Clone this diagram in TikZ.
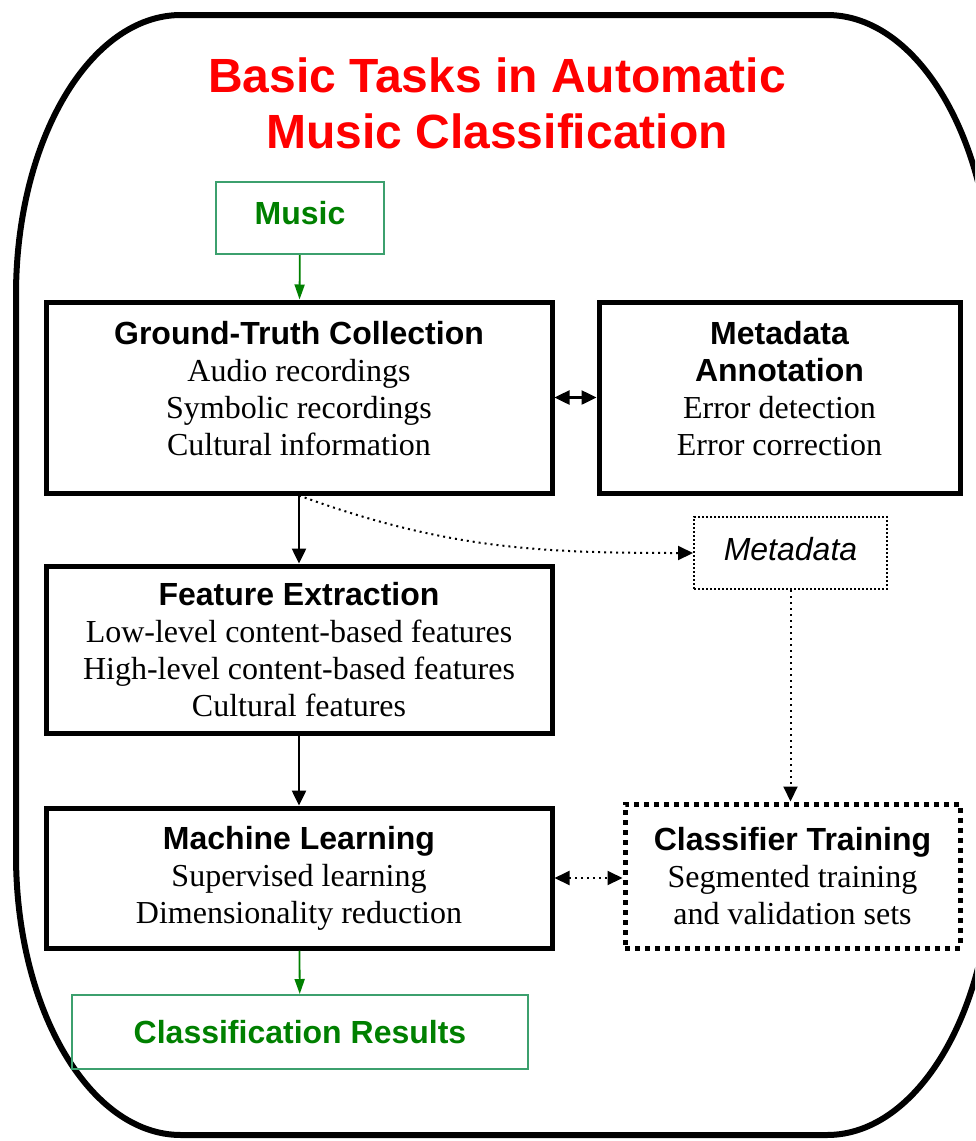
\documentclass[tikz,border=0pt]{standalone}
\usepackage{fontspec}
\setmainfont{Liberation Serif}
\setsansfont{Liberation Sans}
\usetikzlibrary{arrows.meta}
\definecolor{titlered}{RGB}{255,0,0}
\definecolor{textgreen}{RGB}{0,128,0}
\definecolor{linegreen}{RGB}{60,160,110}
\newcommand\taskhead[1]{{\sffamily\bfseries #1}}
\begin{document}
\begin{tikzpicture}[x=0.5pt,y=-0.5pt,
  every node/.style={align=center,font=\fontsize{16}{18.5}\selectfont},
  task/.style={draw,line width=2.5pt,inner sep=0pt},
  io/.style={draw=linegreen,line width=1pt,inner sep=0pt,text=textgreen,font=\fontsize{16}{18.5}\selectfont\sffamily\bfseries},
  meta/.style={draw,line width=1pt,dash pattern=on 1pt off 1pt,inner sep=0pt,font=\fontsize{16}{18.5}\selectfont\sffamily\itshape},
  train/.style={draw,line width=2.5pt,dash pattern=on 2.5pt off 2.5pt,inner sep=0pt},
  >={Triangle[length=7.5pt,width=7pt]},
  arr/.style={line width=1.25pt,->},
  darr/.style={line width=1pt,dash pattern=on 1pt off 2pt,->},
  garr/.style={textgreen,line width=0.9pt,-{Triangle[length=7.5pt,width=5pt]}}]
\clip (0,0) rectangle (975,1141);
\draw[line width=3pt] (16,295) .. controls (16,140) and (90,15) .. (181,15) -- (827,15)
  .. controls (918,15) and (992,140) .. (992,295) -- (992,855)
  .. controls (992,1010) and (918,1135) .. (827,1135) -- (181,1135)
  .. controls (90,1135) and (16,1010) .. (16,855) -- cycle;
\node[text=titlered,font=\fontsize{24}{28}\selectfont\sffamily\bfseries] (title) at (497,103)
  {Basic Tasks in Automatic\\Music Classification};
\node[io,minimum width=84pt,minimum height=36pt,text depth=5pt] (music) at (300,218) {Music};
\node[task,minimum width=253pt,minimum height=95.5pt,text depth=9pt] (gt) at (299,397.5)
  {\taskhead{Ground-Truth Collection}\\Audio recordings\\Symbolic recordings\\Cultural information};
\node[task,minimum width=180.5pt,minimum height=95.5pt,text depth=9pt] (annot) at (779.5,397.5)
  {\taskhead{Metadata}\\\taskhead{Annotation}\\Error detection\\Error correction};
\node[meta,minimum width=96.5pt,minimum height=36pt,text depth=4pt] (mdata) at (790.5,553) {Metadata};
\node[task,minimum width=253pt,minimum height=83.5pt] (fe) at (299,649.5)
  {\taskhead{Feature Extraction}\\Low-level content-based features\\High-level content-based features\\Cultural features};
\node[task,minimum width=253pt,minimum height=70pt] (ml) at (299,878)
  {\taskhead{Machine Learning}\\Supervised learning\\Dimensionality reduction};
\node[train,minimum width=167.5pt,minimum height=72pt] (ct) at (792.5,876)
  {\taskhead{Classifier Training}\\Segmented training\\and validation sets};
\node[io,minimum width=228pt,minimum height=37pt] (res) at (300,1032) {Classification Results};
\draw[garr] (music) -- (gt);
\draw[arr] (gt) -- (fe);
\draw[arr,<->] (gt) -- (annot);
\draw[darr] (gt.south) to[out=-20,in=180] (mdata.west);
\draw[darr] (mdata.south) -- (mdata.south |- ct.north);
\draw[arr] (fe) -- (ml);
\draw[darr,<->] (ml) -- (ml -| ct.west);
\draw[garr] (ml) -- (res);
\end{tikzpicture}
\end{document}
